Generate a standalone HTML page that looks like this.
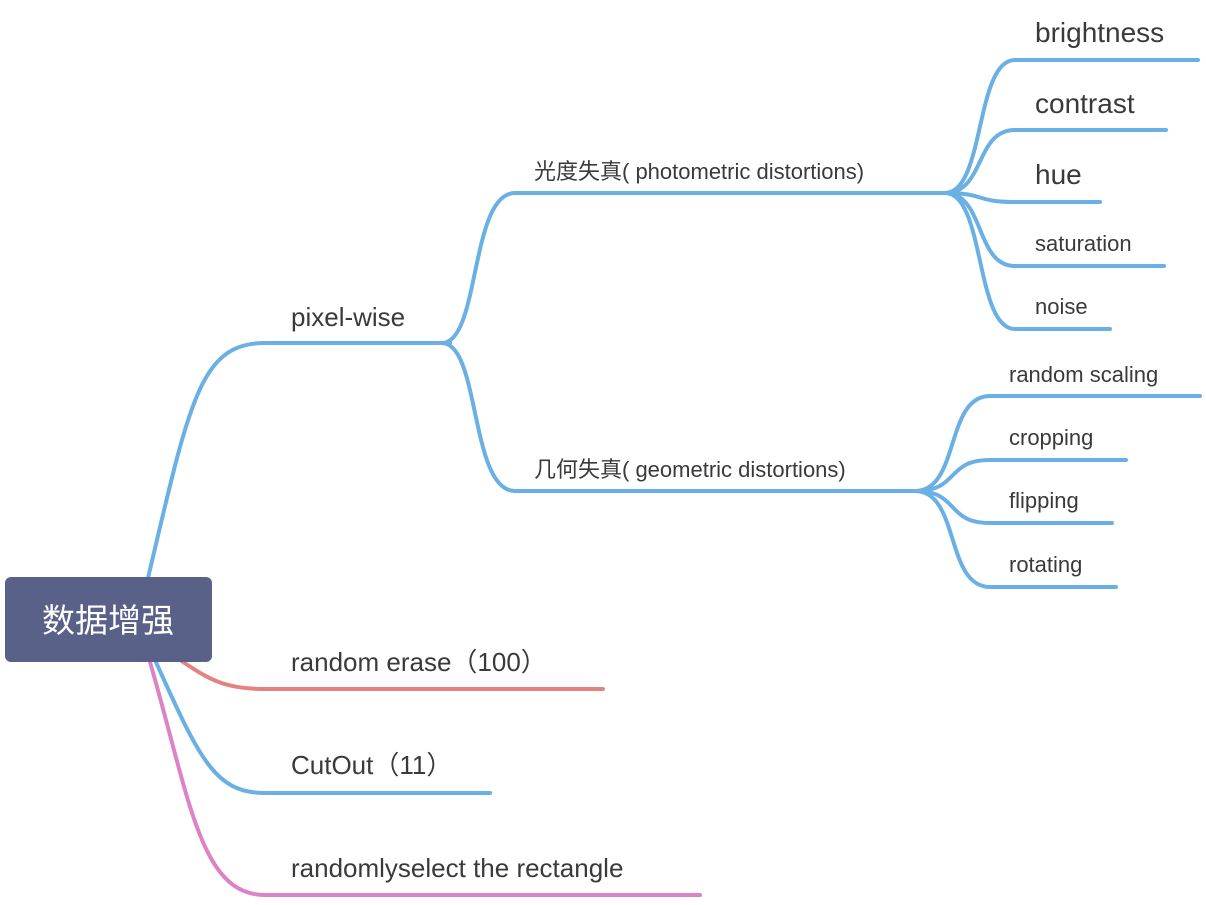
<!DOCTYPE html>
<html><head><meta charset="utf-8"><style>
html,body{margin:0;padding:0;background:#fff;}
svg text{font-family:"Liberation Sans","Noto Sans CJK SC",sans-serif;fill:#3a3a3a;}
</style></head><body>
<svg width="1206" height="900" viewBox="0 0 1206 900" xmlns="http://www.w3.org/2000/svg">
<g fill="none" stroke-width="4" stroke-linecap="round">
<path d="M148,578 C190,400 200,343 265,343 L450,343" stroke="#6ab0e4"/>
<path d="M442,343 C480,343 470,193 515,193 L950,193" stroke="#6ab0e4"/>
<path d="M442,343 C480,343 470,491 515,491 L920,491" stroke="#6ab0e4"/>
<path d="M945,193 C985,193 975,60 1015,60 L1198,60" stroke="#6ab0e4"/>
<path d="M945,193 C985,193 975,130 1015,130 L1166,130" stroke="#6ab0e4"/>
<path d="M945,193 C985,193 975,202 1015,202 L1100,202" stroke="#6ab0e4"/>
<path d="M945,193 C985,193 975,266 1015,266 L1164,266" stroke="#6ab0e4"/>
<path d="M945,193 C985,193 975,329 1015,329 L1110,329" stroke="#6ab0e4"/>
<path d="M915,491 C960,491 945,396 990,396 L1200,396" stroke="#6ab0e4"/>
<path d="M915,491 C960,491 945,460 990,460 L1126,460" stroke="#6ab0e4"/>
<path d="M915,491 C960,491 945,523 990,523 L1112,523" stroke="#6ab0e4"/>
<path d="M915,491 C960,491 945,587 990,587 L1116,587" stroke="#6ab0e4"/>
<path d="M180,660 C210,680 225,689 265,689 L603,689" stroke="#e48282"/>
<path d="M155,660 C200,760 215,793 265,793 L490,793" stroke="#6ab0e4"/>
<path d="M150,662 C190,800 200,895 265,895 L700,895" stroke="#de82c8"/>
</g>
<rect x="5" y="577" width="207" height="85" rx="6" fill="#5a6189"/>
<text x="108" y="632" text-anchor="middle" font-size="33" style="fill:#fff">数据增强</text>
<text x="291" y="326" font-size="26">pixel-wise</text>
<text x="534" y="179" font-size="22">光度失真( photometric distortions)</text>
<text x="534" y="477" font-size="22">几何失真( geometric distortions)</text>
<text x="1035" y="42" font-size="28">brightness</text>
<text x="1035" y="113" font-size="28">contrast</text>
<text x="1035" y="184" font-size="28">hue</text>
<text x="1035" y="251" font-size="22">saturation</text>
<text x="1035" y="314" font-size="22">noise</text>
<text x="1009" y="382" font-size="22">random scaling</text>
<text x="1009" y="445" font-size="22">cropping</text>
<text x="1009" y="508" font-size="22">flipping</text>
<text x="1009" y="572" font-size="22">rotating</text>
<text x="291" y="671" font-size="26">random erase（100）</text>
<text x="291" y="774" font-size="26">CutOut（11）</text>
<text x="291" y="877" font-size="26">randomlyselect the rectangle</text>
</svg>
</body></html>
